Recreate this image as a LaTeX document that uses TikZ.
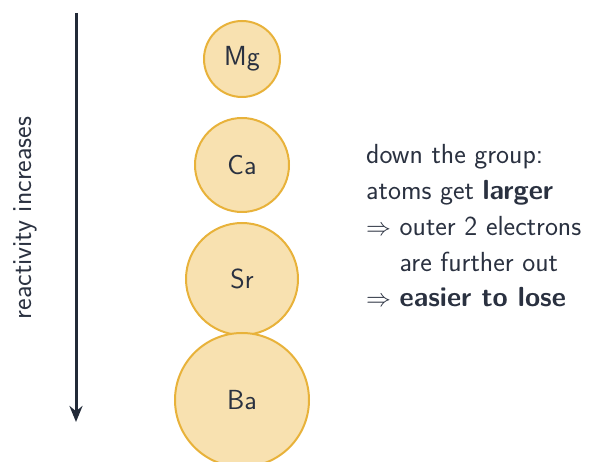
\documentclass[tikz,border=0pt]{standalone}
\usetikzlibrary{arrows.meta}
\definecolor{ink}{HTML}{2A3140}
\definecolor{arrowink}{HTML}{222A38}
\definecolor{atomfill}{HTML}{F8E1B0}
\definecolor{atomdraw}{HTML}{E8B23A}
\begin{document}
\begin{tikzpicture}[x=1pt,y=1pt,
  every node/.style={font=\sffamily\fontsize{27.6}{33}\selectfont, text=ink, inner sep=0pt},
  atom/.style={circle, fill=atomfill, draw=atomdraw, line width=2pt, minimum size=#1, inner sep=0pt},
  textline/.style={anchor=base west}]
\useasboundingbox (0,0) rectangle (591,462);
\coordinate (top) at (76,449);
\coordinate (bot) at (76,40);
\draw[arrowink, line width=3pt, -{Stealth[length=16pt,width=13pt]}] (top) -- (bot);
\node[rotate=90, anchor=base] (lab) at (31,244) {reactivity increases};
\node[atom=76pt] (mg) at (242,403) {};
\node[atom=94pt] (ca) at (242,297) {};
\node[atom=112pt] (sr) at (242,183) {};
\node[atom=134pt] (ba) at (242,62) {};
\node (mgt) at (mg) {Mg};
\node (cat) at (ca) {Ca};
\node (srt) at (sr) {Sr};
\node (bat) at (ba) {Ba};
\node[textline] (l1) at (366,298) {down the group:};
\node[textline] (l2) at (366,262.25) {atoms get \textbf{larger}};
\node[textline] (l3) at (366,226.5) {$\Rightarrow$ outer 2 electrons};
\node[textline] (l4) at (366,190.75) {\phantom{$\Rightarrow$ }are further out};
\node[textline] (l5) at (366,155) {$\Rightarrow$ \textbf{easier to lose}};
\end{tikzpicture}
\end{document}
